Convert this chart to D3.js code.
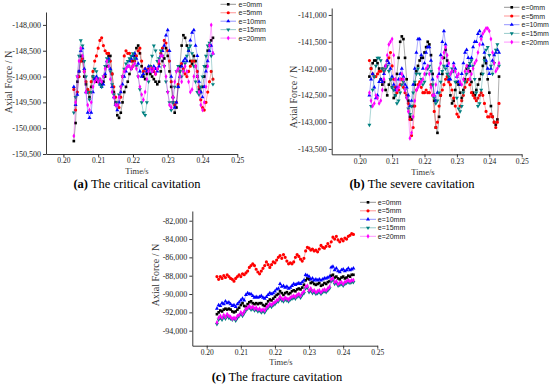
<!DOCTYPE html>
<html><head><meta charset="utf-8">
<script src="https://cdn.jsdelivr.net/npm/d3@7"></script>
<style>body{margin:0;background:#fff;} svg{display:block;}</style>
</head><body><svg id="c" width="550" height="386"></svg>
<script>
const times = [
0.203,0.2035,0.204,0.2045,0.205,0.2055,0.206,0.2065,0.207,0.2075,
0.208,0.2085,0.209,0.2095,0.210,0.2105,0.211,0.2115,0.212,0.2125,
0.213,0.2135,0.214,0.2145,0.215,0.2155,0.216,0.2165,0.217,0.2175,
0.218,0.2185,0.219,0.2195,0.220,0.2205,0.221,0.2215,0.222,0.2225,
0.223,0.2235,0.224,0.2245,0.225,0.2255,0.226,0.2265,0.227,0.2275,
0.228,0.2285,0.229,0.2295,0.230,0.2305,0.231,0.2315,0.232,0.2325,
0.233,0.2335,0.234,0.2345,0.235,0.2355,0.236,0.2365,0.237,0.2375,
0.238,0.2385,0.239,0.2395,0.240,0.2405,0.241,0.2415,0.242,0.2425,
0.243];
const seriesNames = ["e=0mm","e=5mm","e=10mm","e=15mm","e=20mm"];
const seriesColors = ["#000000","#ff0000","#0000ff","#008080","#ff00ff"];
const xTickValues = [0.20,0.21,0.22,0.23,0.24,0.25];

// (a) critical cavitation
const critical_e0 = [
-150250,-149900,-149100,-148900,-148600,-148700,-149000,-149150,-149300,-149400,
-149200,-149000,-149050,-149100,-149100,-149050,-149150,-149100,-149000,-148800,
-148600,-148600,-148950,-149300,-149500,-149750,-149800,-149700,-149500,-149300,
-149200,-149100,-148950,-148850,-148700,-148600,-148450,-148400,-148550,-148800,
-149000,-149050,-148950,-148900,-148950,-149000,-149050,-149100,-149150,-149100,
-148900,-148700,-148650,-148450,-148600,-148900,-149200,-149500,-149700,-149600,
-149200,-148800,-148400,-148200,-148250,-148400,-148500,-148700,-148750,-148600,
-148700,-149000,-149250,-149300,-149200,-149000,-148800,-148500,-148400,-148300,
-148250];
const critical_e5 = [
-149250,-149650,-149300,-149000,-148700,-148650,-148900,-149100,-149250,-149300,
-149100,-148900,-148700,-148600,-148450,-148300,-148250,-148400,-148500,-148550,
-148550,-148700,-148950,-149200,-149400,-149550,-149600,-149400,-149000,-148600,
-148500,-148550,-148550,-148700,-148800,-148700,-148600,-148500,-148450,-148700,
-148900,-148850,-148900,-148850,-148800,-148850,-148900,-148950,-148850,-148750,
-148550,-148450,-148300,-148350,-148500,-148700,-149100,-149400,-149550,-149500,
-149150,-148900,-148750,-148850,-148950,-149000,-148900,-148800,-148700,-148700,
-148800,-148900,-149200,-149450,-149600,-149650,-149500,-149300,-149100,-148900,
-149050];
const critical_e10 = [
-149200,-149550,-149350,-148900,-148500,-148450,-148850,-149300,-149700,-149800,
-149700,-149300,-149050,-149000,-149050,-149150,-149200,-149150,-148950,-148700,
-148650,-148850,-149200,-149400,-149550,-149650,-149500,-149300,-149150,-149000,
-148900,-148800,-148700,-148650,-148600,-148550,-148650,-148750,-148900,-149000,
-148950,-148850,-148900,-148800,-148850,-148900,-148800,-148850,-148900,-148800,
-148600,-148500,-148400,-148200,-148100,-148500,-149000,-149400,-149600,-149500,
-149200,-149000,-148800,-148700,-148650,-148700,-148500,-148300,-148150,-148100,
-148400,-148600,-149100,-149300,-149400,-149200,-148900,-148700,-148500,-148400,
-148550];
const critical_e15 = [
-149700,-149400,-149000,-148600,-148300,-148400,-148700,-149000,-149300,-149450,
-149300,-149000,-148850,-148900,-149050,-149150,-149200,-149000,-148800,-148650,
-148700,-148900,-149150,-149350,-149550,-149500,-149350,-149200,-149000,-148850,
-148750,-148700,-148650,-148600,-148550,-148650,-148800,-149000,-149250,-149500,
-149700,-149750,-149500,-149100,-148800,-148600,-148400,-148500,-148700,-148650,
-148500,-148600,-148800,-149100,-149300,-149500,-149650,-149500,-149200,-148900,
-148800,-148900,-149000,-148900,-148750,-148600,-148450,-148400,-148550,-148800,
-149100,-149300,-149350,-149200,-149000,-148800,-148600,-148400,-148350,-148600,
-149150];
const critical_e20 = [
-150150,-149500,-149000,-148700,-148450,-148600,-148900,-149300,-149550,-149650,
-149500,-149200,-149100,-149050,-149100,-149050,-149100,-149000,-148850,-148700,
-148800,-149050,-149300,-149400,-149550,-149550,-149400,-149200,-149000,-148900,
-148850,-148800,-148800,-148850,-148800,-148750,-148850,-149000,-149200,-149350,
-149450,-149300,-149050,-148900,-148850,-148900,-148850,-148950,-148850,-148700,
-148600,-148600,-148800,-149000,-149300,-149550,-149600,-149400,-149100,-148900,
-148850,-149000,-149100,-148900,-148800,-148900,-149100,-149300,-149250,-149000,
-148800,-149000,-149300,-149550,-149650,-149500,-149200,-148800,-148400,-148000,
-148550];
const criticalTicks = [-148000,-148500,-149000,-149500,-150000,-150500];

// (b) severe cavitation
const severe_e0 = [
-142150,-142000,-141900,-141850,-141850,-141900,-142000,-142200,-142300,-142250,
-142400,-142500,-142300,-142200,-142350,-142550,-142500,-142100,-141800,-141500,
-141400,-141450,-141800,-142200,-142600,-142900,-142950,-142700,-142300,-142050,
-141950,-141850,-141800,-141800,-141700,-141600,-141500,-141550,-141750,-142100,
-142600,-143100,-143200,-142900,-142500,-142100,-141800,-141650,-141850,-142200,
-142500,-142650,-142600,-142400,-142250,-142300,-142450,-142550,-142400,-142200,
-142000,-141950,-142050,-142250,-142450,-142500,-142400,-142300,-142200,-142100,
-141950,-141800,-141900,-142200,-142450,-142700,-142900,-143000,-143050,-142950,
-142150];
const severe_e5 = [
-141850,-142000,-142100,-142150,-142150,-142100,-142050,-142050,-142000,-142050,
-141950,-141850,-141800,-141700,-141950,-142200,-142350,-142450,-142400,-142300,
-142200,-142350,-142450,-142500,-142650,-142950,-143250,-143100,-142700,-142400,
-142300,-142250,-142350,-142450,-142450,-142400,-142450,-142450,-142300,-142500,
-142800,-143100,-143000,-142700,-142500,-142400,-142300,-142200,-142150,-142250,
-142300,-142400,-142550,-142700,-142850,-142900,-142700,-142600,-142500,-142350,
-142250,-142200,-142300,-142450,-142500,-142550,-142600,-142550,-142500,-142450,
-142500,-142650,-142800,-142900,-142900,-142850,-142900,-143000,-143100,-143000,
-142650];
const severe_e10 = [
-142500,-142200,-142100,-142350,-142550,-142500,-142250,-142200,-142250,-142100,
-141950,-141850,-141900,-142000,-142150,-142300,-142400,-142350,-142200,-142100,
-142000,-142150,-142300,-142350,-142500,-142700,-142600,-142300,-142000,-141700,
-141450,-141450,-141750,-142000,-141900,-141700,-141600,-141600,-141850,-142200,
-142500,-142600,-142450,-142100,-141750,-141500,-141300,-141550,-141950,-142200,
-142200,-142050,-141900,-142000,-142150,-142250,-142300,-142100,-141900,-141700,
-141650,-141800,-141950,-141800,-141600,-141500,-141500,-141350,-141300,-141400,
-141550,-141700,-141850,-142000,-142100,-142000,-141850,-141750,-141700,-141650,
-141700];
const severe_e15 = [
-143050,-142700,-142400,-142150,-141950,-141800,-141800,-141850,-142000,-142050,
-142000,-141950,-142050,-142200,-142350,-142400,-142500,-142650,-142600,-142450,
-142300,-142250,-142400,-142550,-142750,-142850,-142700,-142450,-142250,-142100,
-142000,-142100,-142200,-142300,-142250,-142100,-142000,-141950,-142050,-142300,
-142550,-142650,-142600,-142450,-142250,-142050,-141950,-142000,-142100,-142150,
-142100,-142000,-142050,-142250,-142550,-142750,-142800,-142700,-142450,-142250,
-142100,-142000,-141900,-141850,-141950,-142200,-142450,-142700,-142650,-142400,
-142100,-141850,-141650,-141600,-141750,-141950,-142100,-141900,-141650,-141550,
-141950];
const severe_e20 = [
-142450,-142600,-142700,-142650,-142500,-142550,-142650,-142600,-142400,-142200,
-141950,-141750,-141550,-141500,-141450,-141750,-142200,-142400,-142350,-142200,
-142100,-142200,-142400,-142550,-142800,-143300,-143200,-142900,-142600,-142400,
-142350,-142300,-142250,-142200,-142100,-142000,-141950,-142100,-142350,-142500,
-142500,-142300,-142150,-142000,-141900,-141800,-141700,-141600,-141750,-141900,
-142100,-142050,-141950,-142050,-142150,-142100,-142250,-142300,-142200,-142050,
-141950,-142050,-142200,-142100,-142000,-141900,-141850,-141700,-141550,-141450,
-141350,-141300,-141250,-141250,-141300,-141450,-141700,-141900,-142050,-142000,
-141900];
const severeTicks = [-141000,-141500,-142000,-142500,-143000,-143500];

// (c) fracture cavitation
const fracture_e0 = [
-92200,-92000,-91800,-91900,-91700,-91600,-91700,-91600,-91700,-91900,
-92000,-91900,-91700,-91500,-91200,-91000,-91300,-91400,-91100,-90900,
-90800,-91000,-91100,-91000,-91100,-91000,-91000,-91200,-91300,-91100,
-90800,-90600,-90700,-90500,-90300,-90100,-90000,-89700,-89900,-90100,
-89900,-89800,-90000,-89900,-89700,-89600,-89700,-89500,-89400,-89500,
-89300,-89000,-88500,-88300,-88400,-88800,-88700,-88900,-89000,-88900,
-88800,-89100,-89000,-88800,-88900,-88700,-88600,-88000,-87900,-88200,
-88100,-88300,-88400,-88200,-88100,-88300,-88200,-88000,-88100,-87900,
-87900];
const fracture_e5 = [
-88100,-88400,-88100,-88300,-88000,-88200,-87900,-88100,-88300,-88400,
-88600,-88300,-88100,-87900,-88100,-87800,-87900,-87700,-87500,-87100,
-86900,-86700,-86900,-87300,-87600,-87800,-87500,-87200,-86900,-86500,
-86800,-87100,-86800,-86500,-86600,-86300,-86000,-85800,-86100,-85700,
-86000,-86400,-86700,-86600,-86700,-86500,-86000,-85700,-85900,-86200,
-86400,-86100,-85300,-84900,-85000,-85200,-85100,-85300,-85200,-85400,
-85100,-84700,-84900,-85000,-84800,-84500,-84800,-84300,-83800,-84000,
-83700,-84100,-84300,-84000,-84200,-83900,-84000,-83700,-83600,-83400,
-83500];
const fracture_e10 = [
-91600,-91200,-91300,-91000,-91100,-90800,-91000,-90900,-91100,-91300,
-91200,-91400,-91100,-90900,-90700,-90500,-90700,-90100,-89900,-90000,
-90000,-90200,-90400,-90300,-90400,-90300,-90200,-90400,-90500,-90300,
-90100,-89900,-90000,-89900,-89700,-89500,-89400,-88900,-89200,-89100,
-89300,-89200,-89400,-89300,-89100,-88900,-89000,-88900,-88800,-88900,
-88700,-88500,-87900,-88000,-88100,-88400,-88300,-88500,-88400,-88500,
-88400,-88500,-88400,-88300,-88300,-88200,-88100,-87100,-87000,-87400,
-87200,-87500,-87600,-87400,-87300,-87500,-87400,-87200,-87400,-87300,
-87200];
const fracture_e15 = [
-93300,-92800,-92600,-92800,-92500,-92700,-92400,-92600,-92700,-92800,
-92700,-92900,-92600,-92400,-92200,-92400,-92100,-91800,-91600,-91500,
-91700,-91600,-91800,-91700,-91900,-91800,-92000,-91900,-92000,-91700,
-91500,-91300,-91400,-91200,-91100,-90900,-90800,-90500,-90700,-90800,
-90600,-90700,-90800,-90600,-90500,-90400,-90500,-90300,-90200,-90400,
-90100,-89900,-89400,-89300,-89800,-89600,-89900,-89800,-90000,-89900,
-89800,-90000,-89800,-89700,-89800,-89600,-89400,-88600,-88500,-88900,
-88800,-89100,-89000,-88900,-89100,-88900,-88800,-88700,-88800,-88700,
-88700];
const fracture_e20 = [
-93100,-92600,-92400,-92600,-92300,-92500,-92200,-92400,-92500,-92700,
-92600,-92700,-92400,-92300,-92000,-92200,-91900,-91600,-91500,-91300,
-91500,-91400,-91600,-91500,-91700,-91600,-91800,-91700,-91800,-91500,
-91300,-91100,-91200,-91000,-90900,-90700,-90600,-90300,-90500,-90600,
-90400,-90500,-90600,-90400,-90300,-90200,-90300,-90100,-90000,-90200,
-89900,-89700,-89200,-89100,-89600,-89400,-89700,-89600,-89800,-89700,
-89600,-89800,-89600,-89500,-89600,-89400,-89200,-88400,-88300,-88700,
-88600,-88900,-88800,-88700,-88900,-88700,-88600,-88500,-88600,-88500,
-88500];
const fractureTicks = [-82000,-84000,-86000,-88000,-90000,-92000,-94000];

const panels = [
  { series:[critical_e0,critical_e5,critical_e10,critical_e15,critical_e20], yTicks:criticalTicks,
    xDom:[0.195,0.25], xRange:[46,237.3], yDom:[-150500,-147750], yRange:[154,12],
    yTitle:[8.5,82], xTitle:[137,174], legend:{y0:4.3,dy:8.45,lx0:220.5,lx1:236,tx:238.5},
    cap:["(a)"," The critical cavitation"], capPos:[137,188] },
  { series:[severe_e0,severe_e5,severe_e10,severe_e15,severe_e20], yTicks:severeTicks,
    xDom:[0.19136,0.25], xRange:[331.7,521.7], yDom:[-143600,-140870], yRange:[154.3,8],
    yTitle:[293,97], xTitle:[423,174.5], legend:{y0:7.3,dy:8.7,lx0:504,lx1:519.5,tx:521.5},
    cap:["(b)"," The severe cavitation"], capPos:[412,188] },
  { series:[fracture_e0,fracture_e5,fracture_e10,fracture_e15,fracture_e20], yTicks:fractureTicks,
    xDom:[0.19578,0.25], xRange:[192.3,377.3], yDom:[-95640,-80940], yRange:[345.7,211],
    yTitle:[155.5,275], xTitle:[281,365], legend:{y0:202.3,dy:8.5,lx0:360,lx1:376,tx:377.8},
    cap:["(c)"," The fracture cavitation"], capPos:[277,381] }
];

const svg = d3.select("#c");
const loc = d3.formatLocale({decimal:".",thousands:",",grouping:[3],currency:["",""],minus:"-"});
const yFmt = loc.format(",d");
const xFmt = loc.format(".2f");
const serif = "'Liberation Serif','Times New Roman',serif";
const sans = "'Liberation Sans',Arial,sans-serif";
const symTypes = [d3.symbolSquare,d3.symbolCircle,d3.symbolTriangle,d3.symbolTriangle,d3.symbolDiamond];
const symSizes = [7,8,7,7,7];
const symRot = [0,0,0,180,0];

function marker(g, i, x, y) {
  g.append("path")
    .attr("d", d3.symbol().type(symTypes[i]).size(symSizes[i])())
    .attr("transform", `translate(${x},${y}) rotate(${symRot[i]})`)
    .attr("fill", seriesColors[i]);
}

panels.forEach(p => {
  const g = svg.append("g");
  const x = d3.scaleLinear().domain(p.xDom).range(p.xRange);
  const y = d3.scaleLinear().domain(p.yDom).range(p.yRange);

  const xa = g.append("g").attr("transform",`translate(0,${p.yRange[0]})`)
    .call(d3.axisBottom(x).tickValues(xTickValues).tickFormat(xFmt).tickSize(3).tickSizeOuter(0).tickPadding(1));
  const ya = g.append("g").attr("transform",`translate(${p.xRange[0]},0)`)
    .call(d3.axisLeft(y).tickValues(p.yTicks).tickFormat(yFmt).tickSize(3).tickSizeOuter(0).tickPadding(2));
  xa.selectAll("text").attr("font-size",7.5);
  ya.selectAll("text").attr("font-size",8);
  [xa,ya].forEach(a => {
    a.selectAll("text").attr("font-family",serif).attr("fill","#222");
    a.selectAll("line,path").attr("stroke","#222").attr("stroke-width",0.9);
  });

  // series
  p.series.forEach((vals, i) => {
    const pts = times.map((t,k) => [t, vals[k]]);
    g.append("path").datum(pts)
      .attr("d", d3.line().x(d=>x(d[0])).y(d=>y(d[1])))
      .attr("fill","none").attr("stroke",seriesColors[i])
      .attr("stroke-width",0.6).attr("stroke-opacity",0.55);
    const mg = g.append("g");
    pts.forEach(d => marker(mg, i, x(d[0]), y(d[1])));
  });

  // titles
  g.append("text").attr("transform",`translate(${p.yTitle[0]},${p.yTitle[1]}) rotate(-90)`)
    .attr("text-anchor","middle").attr("dominant-baseline","central")
    .attr("font-family",serif).attr("font-size",10).attr("fill","#333").text("Axial Force / N");
  g.append("text").attr("x",p.xTitle[0]).attr("y",p.xTitle[1])
    .attr("text-anchor","middle").attr("font-family",serif).attr("font-size",8.5).attr("fill","#333").text("Time/s");

  // legend
  const L = p.legend;
  seriesNames.forEach((nm,i) => {
    const yy = L.y0 + i*L.dy;
    g.append("line").attr("x1",L.lx0).attr("x2",L.lx1).attr("y1",yy).attr("y2",yy)
      .attr("stroke",seriesColors[i]).attr("stroke-width",0.7).attr("stroke-opacity",0.6);
    marker(g, i, (L.lx0+L.lx1)/2, yy);
    g.append("text").attr("x",L.tx).attr("y",yy).attr("dominant-baseline","central")
      .attr("font-family",sans).attr("font-size",7).attr("fill","#222").text(nm);
  });

  // caption
  const cap = g.append("text").attr("x",p.capPos[0]).attr("y",p.capPos[1]).attr("text-anchor","middle")
    .attr("font-family",serif).attr("font-size",12.5).attr("fill","#000");
  cap.append("tspan").attr("font-weight","bold").text(p.cap[0]);
  cap.append("tspan").text(p.cap[1]);
});
</script>
</body></html>
